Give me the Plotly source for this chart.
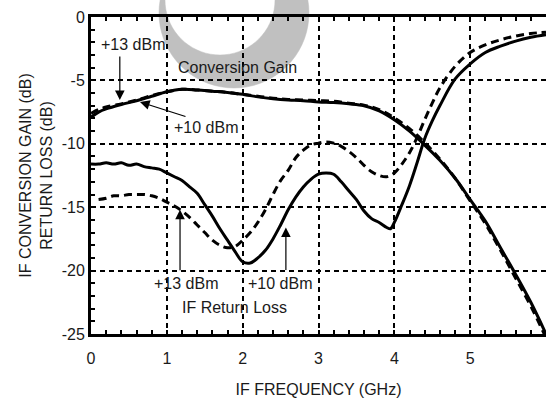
import math
import plotly.graph_objects as go

# ---- data ----
cg_freq = [0, 0.1, 0.2, 0.4, 0.6, 0.8, 1.0, 1.2, 1.4, 1.6, 1.8, 2.0, 2.2, 2.4, 2.6, 2.8,
           3.0, 3.2, 3.4, 3.6, 3.8, 4.0, 4.2, 4.4, 4.6, 4.8, 5.0, 5.2, 5.4, 5.6, 5.8, 6.0]
cg_10dbm = [-7.9, -7.5, -7.25, -6.9, -6.6, -6.25, -5.9, -5.7, -5.75, -5.85, -5.95, -6.1,
            -6.3, -6.45, -6.55, -6.6, -6.7, -6.75, -6.85, -7.0, -7.4, -8.1, -9.0, -10.1,
            -11.3, -12.7, -14.4, -16.1, -18.2, -20.3, -22.5, -25.0]
cg_13dbm = [-7.6, -7.3, -7.1, -6.85, -6.55, -6.2, -5.9, -5.7, -5.75, -5.85, -5.95, -6.1,
            -6.25, -6.4, -6.5, -6.55, -6.6, -6.65, -6.8, -6.95, -7.3, -7.95, -8.8, -9.9,
            -11.2, -12.7, -14.5, -16.3, -18.4, -20.6, -22.8, -25.3]

rl10_freq = [0, 0.1, 0.2, 0.3, 0.4, 0.5, 0.6, 0.7, 0.8, 0.9, 1.0, 1.1, 1.2, 1.3, 1.4, 1.5,
             1.6, 1.7, 1.8, 1.9, 2.0, 2.1, 2.2, 2.3, 2.4, 2.5, 2.6, 2.7, 2.8, 2.9, 3.0, 3.1,
             3.2, 3.3, 3.4, 3.5, 3.6, 3.7, 3.8, 3.9, 3.95, 4.0, 4.1, 4.2, 4.3, 4.4, 4.5,
             4.6, 4.8, 5.0, 5.2, 5.4, 5.6, 5.8, 6.0]
rl_10dbm = [-11.6, -11.6, -11.5, -11.6, -11.5, -11.7, -11.6, -11.8, -11.9, -12.0, -12.3,
            -12.6, -12.9, -13.4, -13.9, -14.8, -15.7, -16.7, -17.6, -18.5, -19.3, -19.4,
            -19.0, -18.4, -17.5, -16.4, -15.2, -14.2, -13.4, -12.8, -12.4, -12.3, -12.4,
            -13.0, -13.7, -14.4, -15.3, -15.9, -16.2, -16.6, -16.7, -16.2, -14.8, -13.3,
            -11.5, -9.6, -8.2, -7.0, -4.9, -3.7, -2.8, -2.3, -1.9, -1.6, -1.4]

rl13_freq = [0.1, 0.2, 0.3, 0.4, 0.5, 0.6, 0.7, 0.8, 0.9, 1.0, 1.1, 1.2, 1.3, 1.4, 1.5,
             1.6, 1.7, 1.8, 1.9, 2.0, 2.1, 2.2, 2.3, 2.4, 2.5, 2.6, 2.7, 2.8, 2.9, 3.0,
             3.1, 3.2, 3.3, 3.4, 3.5, 3.6, 3.7, 3.8, 3.9, 4.0, 4.1, 4.2, 4.3, 4.4, 4.5,
             4.6, 4.8, 5.0, 5.2, 5.4, 5.6, 5.8, 6.0]
rl_13dbm = [-14.4, -14.3, -14.1, -14.1, -14.0, -14.0, -14.0, -14.1, -14.3, -14.6, -14.9,
            -15.3, -15.8, -16.4, -17.0, -17.6, -18.0, -18.2, -18.1, -17.6, -17.0, -16.2,
            -15.2, -14.0, -12.9, -12.1, -11.1, -10.5, -10.1, -9.95, -9.85, -9.95, -10.2,
            -10.6, -11.1, -11.7, -12.2, -12.5, -12.6, -12.3, -11.6, -10.7, -9.5, -8.1,
            -6.8, -5.6, -3.9, -2.8, -2.2, -1.8, -1.5, -1.3, -1.2]

x_ticks = [0, 1, 2, 3, 4, 5, 6]
x_tick_labels = ["0", "1", "2", "3", "4", "5", "6"]
y_ticks = [0, -5, -10, -15, -20, -25]
y_tick_labels = ["0", "-5", "-10", "-15", "-20", "-25"]

FONT = "Liberation Sans, Arial, sans-serif"
INK = "#1a1a1a"
RING = "rgb(192,192,192)"

fig = go.Figure()
solid = dict(color="black", width=3)
dashed = dict(color="black", width=3, dash="8px,5px")
fig.add_trace(go.Scatter(x=cg_freq, y=cg_13dbm, mode="lines", line=dashed, line_shape="spline"))
fig.add_trace(go.Scatter(x=cg_freq, y=cg_10dbm, mode="lines", line=solid, line_shape="spline"))
fig.add_trace(go.Scatter(x=rl13_freq, y=rl_13dbm, mode="lines", line=dashed, line_shape="spline"))
fig.add_trace(go.Scatter(x=rl10_freq, y=rl_10dbm, mode="lines", line=solid, line_shape="spline"))


# watermark ring (decoration only): eccentric annulus as one even-odd path, in pixels
def circle_path(cx, cy, r, n=72):
    pts = [(cx + r * math.cos(2 * math.pi * k / n), cy + r * math.sin(2 * math.pi * k / n))
           for k in range(n)]
    return "M " + " L ".join(f"{px:.2f},{py:.2f}" for px, py in pts) + " Z"


ring_path = circle_path(0, 0, 75) + " " + circle_path(-14, 13, 55)
fig.add_shape(type="path", path=ring_path, xref="paper", yref="paper",
              xsizemode="pixel", ysizemode="pixel",
              xanchor=(234 - 91) / 455, yanchor=(334 - 13) / 317,
              fillcolor=RING, fillrule="evenodd", line=dict(color=RING, width=0.5),
              layer="below")


def label(text, x, y):
    fig.add_annotation(x=x, y=y, text=text, showarrow=False,
                       font=dict(family=FONT, size=16, color=INK))


def arrow(x, y, ax, ay):
    fig.add_annotation(x=x, y=y, text="", showarrow=True, ax=ax, ay=ay,
                       arrowhead=2, arrowsize=1.6, arrowwidth=1.2, arrowcolor="black")


label("+13 dBm", 0.55, -2.2)
label("Conversion Gain", 1.93, -4.0)
label("+10 dBm", 1.52, -8.7)
label("+13 dBm", 1.25, -21.05)
label("+10 dBm", 2.49, -21.05)
label("IF Return Loss", 1.89, -22.9)

arrow(0.38, -6.55, 0, -45)
arrow(0.646, -6.7, 47, 15)
arrow(1.174, -15.2, 0, 62)
arrow(2.57, -16.6, 0, 44)

axis_common = dict(
    showline=True, linecolor="black", linewidth=3, automargin=False,
    ticks="inside", ticklen=4, tickwidth=2, tickcolor="black",
    showgrid=True, gridcolor="black", gridwidth=2, griddash="5px,4px",
    zeroline=False, tickfont=dict(family=FONT, size=16, color=INK),
)

fig.update_layout(
    width=547, height=398,
    margin=dict(l=91, r=1, t=17, b=64),
    paper_bgcolor="white", plot_bgcolor="rgba(0,0,0,0)",
    showlegend=False,
    xaxis=dict(axis_common, range=[0, 6], tickvals=x_ticks, ticktext=x_tick_labels, mirror="ticks",
               ticklabelstandoff=8,
               minor=dict(dtick=0.2, ticks="inside", ticklen=4, tickwidth=2, tickcolor="black"),
               title=dict(text="IF FREQUENCY (GHz)", font=dict(family=FONT, size=16, color=INK), standoff=18)),
    yaxis=dict(axis_common, range=[-25, 0], tickvals=y_ticks, ticktext=y_tick_labels, mirror=False,
               minor=dict(dtick=1, ticks="inside", ticklen=4, tickwidth=2, tickcolor="black"),
               title=dict(text="IF CONVERSION GAIN (dB)<br>RETURN LOSS (dB)",
                          font=dict(family=FONT, size=16, color=INK), standoff=6)),
    yaxis2=dict(overlaying="y", matches="y", side="right", range=[-25, 0], showline=False,
                automargin=False,
                showgrid=False, zeroline=False, showticklabels=False,
                ticks="inside", ticklen=4, tickwidth=2, tickcolor="black", tickvals=y_ticks,
                minor=dict(dtick=1, ticks="inside", ticklen=4, tickwidth=2, tickcolor="black")),
)

fig.write_html("out.html", config={"displayModeBar": False},
               post_script="document.body.style.margin='0';document.body.style.overflow='hidden';")
